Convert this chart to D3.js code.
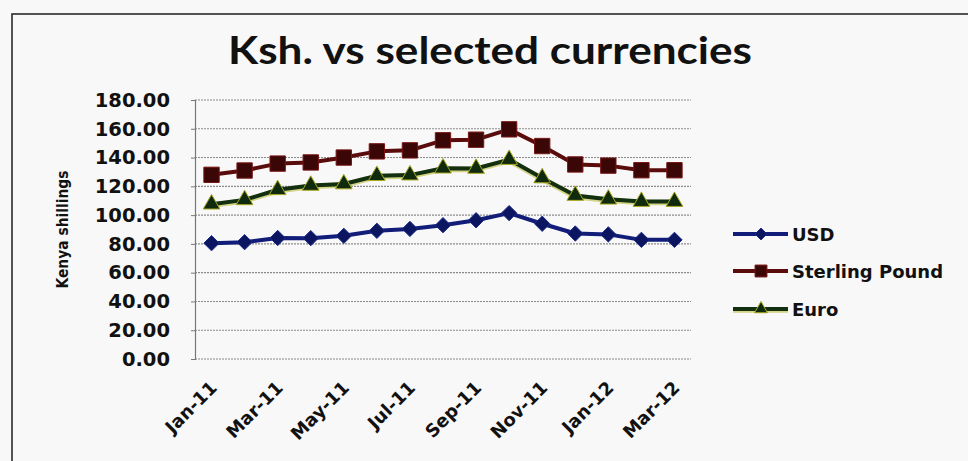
<!DOCTYPE html>
<html>
<head>
<meta charset="utf-8">
<script src="https://cdn.jsdelivr.net/npm/d3@7"></script>
<style>
  html, body { margin: 0; padding: 0; background: #f8f8f8; }
  svg { display: block; }
</style>
</head>
<body>
<svg id="chart" width="968" height="461"></svg>
<script>
// Monthly exchange rates: Kenya shillings per unit of foreign currency
const months = ["Jan-11","Feb-11","Mar-11","Apr-11","May-11","Jun-11","Jul-11","Aug-11",
                "Sep-11","Oct-11","Nov-11","Dec-11","Jan-12","Feb-12","Mar-12"];
const usd      = [80.5, 81.2, 84.1, 84.0, 85.6, 89.1, 90.4, 93.0, 96.4, 101.4, 94.0, 87.2, 86.6, 82.8, 82.8];
const sterling = [128.0, 131.0, 135.8, 136.6, 140.0, 144.3, 145.0, 152.0, 152.4, 159.6, 148.0, 135.2, 134.4, 131.2, 131.2];
const euro     = [107.6, 110.6, 117.6, 120.6, 121.6, 127.4, 127.8, 132.6, 132.4, 138.6, 125.8, 113.6, 111.0, 109.4, 109.4];
const yTicks   = [0, 20, 40, 60, 80, 100, 120, 140, 160, 180];
const xTickLabels = ["Jan-11","Mar-11","May-11","Jul-11","Sep-11","Nov-11","Jan-12","Mar-12"];

const seriesNames = ["USD", "Sterling Pound", "Euro"];
const seriesValues = [usd, sterling, euro];

const svg = d3.select("#chart");
const plot = { left: 195, right: 691, top: 100, bottom: 359 };

// outer frame
svg.append("rect")
  .attr("x", 12).attr("y", 14).attr("width", 1000).attr("height", 500)
  .attr("fill", "#f8f8f8").attr("stroke", "#2a2a2a").attr("stroke-width", 1.6);

// title
svg.append("text")
  .attr("x", 490).attr("y", 64)
  .attr("text-anchor", "middle")
  .attr("font-family", "Lato, 'Open Sans', sans-serif")
  .attr("font-weight", 700)
  .attr("font-size", 38)
  .attr("textLength", 524)
  .attr("lengthAdjust", "spacingAndGlyphs")
  .attr("fill", "#111")
  .text("Ksh. vs selected currencies");

const x = d3.scalePoint().domain(months).range([plot.left, plot.right]).padding(0.5);
const y = d3.scaleLinear().domain([0, 180]).range([plot.bottom, plot.top]);

// horizontal gridlines
svg.append("g")
  .selectAll("line")
  .data(yTicks)
  .join("line")
  .attr("x1", plot.left).attr("x2", plot.right)
  .attr("y1", d => y(d)).attr("y2", d => y(d))
  .attr("stroke", "#8a8a8a").attr("stroke-width", 1.1)
  .attr("stroke-dasharray", "2,1");

// y axis
const yAxis = svg.append("g")
  .attr("transform", `translate(${plot.left},0)`)
  .call(d3.axisLeft(y).tickValues(yTicks).tickFormat(d3.format(".2f")).tickSize(4).tickPadding(21));
yAxis.select(".domain").attr("stroke", "#777").attr("stroke-width", 1.2);
yAxis.selectAll(".tick line").attr("stroke", "#777");
yAxis.selectAll("text")
  .attr("font-family", "'DejaVu Sans', Verdana, sans-serif")
  .attr("font-weight", 700)
  .attr("font-size", 19.5)
  .attr("fill", "#111");

// x axis
const xAxis = svg.append("g")
  .attr("transform", `translate(0,${plot.bottom})`)
  .call(d3.axisBottom(x).tickValues(xTickLabels).tickSize(0).tickPadding(0));
xAxis.select(".domain").remove();
xAxis.selectAll("text")
  .attr("font-family", "'DejaVu Sans', Verdana, sans-serif")
  .attr("font-weight", 700)
  .attr("font-size", 18)
  .attr("fill", "#111")
  .attr("text-anchor", "end")
  .attr("dy", 0)
  .attr("transform", "translate(6,30) rotate(-45)");

// y axis title, centred on the plot area
svg.append("text")
  .attr("transform", `translate(68,${(plot.top + plot.bottom) / 2}) rotate(-90)`)
  .attr("text-anchor", "middle")
  .attr("font-family", "'DejaVu Sans Condensed', 'Liberation Sans Narrow', sans-serif")
  .attr("font-stretch", "condensed")
  .attr("font-weight", 700)
  .attr("font-size", 16)
  .attr("textLength", 118)
  .attr("lengthAdjust", "spacingAndGlyphs")
  .attr("fill", "#111")
  .text("Kenya shillings");

const styles = [
  { line: "#111d78", halo: null,      fill: "#0c1660", stroke: "#1b2a8a", symbol: d3.symbolDiamond2, size: 150 },
  { line: "#5a0c0c", halo: null,      fill: "#3a0606", stroke: "#7a1515", symbol: d3.symbolSquare2,  size: 300 },
  { line: "#12300f", halo: "#b4b428", fill: "#0f2a0c", stroke: "#a8a820", symbol: d3.symbolTriangle2, size: 200 }
];

const line = d3.line().x((d, i) => x(months[i])).y(d => y(d));

seriesValues.forEach((vals, k) => {
  const s = styles[k];
  const g = svg.append("g");
  if (s.halo) {
    g.append("path").attr("d", line(vals)).attr("fill", "none")
      .attr("stroke", s.halo).attr("stroke-width", 5.5).attr("stroke-opacity", 0.55)
      .attr("transform", "translate(0,1)");
  }
  g.append("path").attr("d", line(vals)).attr("fill", "none")
    .attr("stroke", s.line).attr("stroke-width", 4).attr("stroke-linejoin", "round");
  g.selectAll("path.m")
    .data(vals)
    .join("path")
    .attr("class", "m")
    .attr("d", d3.symbol().type(s.symbol).size(s.size))
    .attr("transform", (d, i) => `translate(${x(months[i])},${y(d)})`)
    .attr("fill", s.fill).attr("stroke", s.stroke).attr("stroke-width", 1);
});

// legend
const legendY = [234, 271, 309];
seriesNames.forEach((name, k) => {
  const s = styles[k];
  const g = svg.append("g").attr("transform", `translate(0,${legendY[k]})`);
  if (s.halo) {
    g.append("line").attr("x1", 733).attr("x2", 788).attr("y1", 1).attr("y2", 1)
      .attr("stroke", s.halo).attr("stroke-width", 5.5).attr("stroke-opacity", 0.55);
  }
  g.append("line").attr("x1", 733).attr("x2", 788).attr("y1", 0).attr("y2", 0)
    .attr("stroke", s.line).attr("stroke-width", 4);
  g.append("path")
    .attr("d", d3.symbol().type(s.symbol).size(s.size * 0.6))
    .attr("transform", "translate(761,0)")
    .attr("fill", s.fill).attr("stroke", s.stroke).attr("stroke-width", 1);
  g.append("text")
    .attr("x", 792).attr("y", 7)
    .attr("font-family", "'DejaVu Sans', Verdana, sans-serif")
    .attr("font-weight", 700)
    .attr("font-size", 18)
    .attr("fill", "#111")
    .text(name);
});
</script>
</body>
</html>
